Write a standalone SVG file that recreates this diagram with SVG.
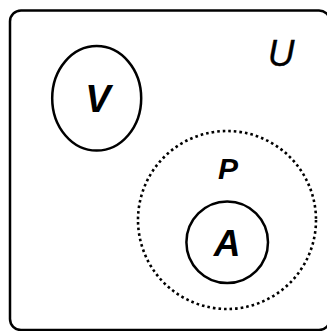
<svg xmlns="http://www.w3.org/2000/svg" width="327" height="331" viewBox="0 0 327 331">
<style>
.line{fill:none;stroke:#000;stroke-width:2.5}
.dot{fill:none;stroke:#000;stroke-width:2.6;stroke-dasharray:2.6 3}
.lbl{font-family:"Liberation Sans",Arial,sans-serif;font-style:italic;font-weight:bold;fill:#000;text-anchor:middle}
.thin{font-weight:normal;stroke:#000;stroke-width:0.3}
</style>
<rect fill="#fff" width="327" height="331"/>
<g id="U">
<rect class="line" x="10" y="10.5" width="320" height="319.5" rx="11"/>
<text class="lbl thin" x="281" y="66" font-size="37">U</text>
</g>
<g id="V">
<ellipse class="line" cx="96.7" cy="98.3" rx="44.5" ry="52.3"/>
<text class="lbl" x="98" y="112" font-size="38">V</text>
</g>
<g id="P">
<circle class="dot" cx="227" cy="220" r="89"/>
<text class="lbl" x="228" y="179" font-size="30">P</text>
</g>
<g id="A">
<circle class="line" cx="227.2" cy="242.2" r="40.8"/>
<text class="lbl" x="227" y="256" font-size="37">A</text>
</g>
<g id="connectors"/>
</svg>
